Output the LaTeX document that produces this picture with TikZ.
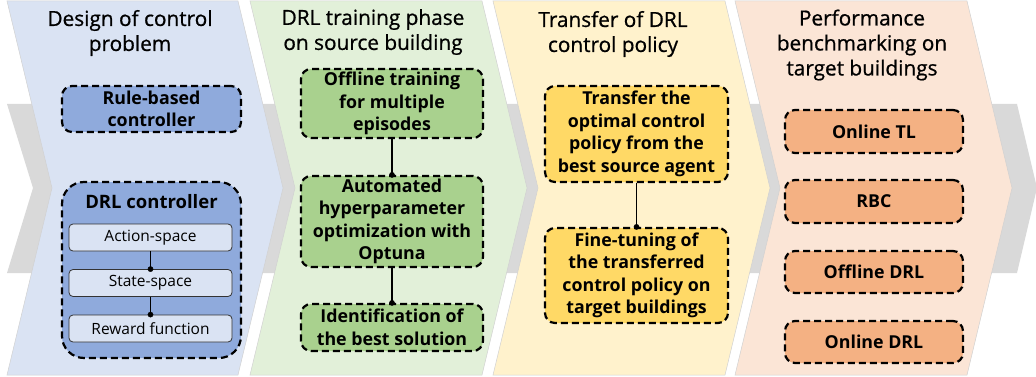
\documentclass[tikz,border=0pt]{standalone}
\usepackage{fontspec}
\setmainfont{Open Sans}
\newfontfamily\ttlfont{Open Sans}[FakeBold=0.8]
\usepackage{tikz}
\usetikzlibrary{%
  arrows,%
  calc,%
  positioning%
}
\definecolor{bluebg}{HTML}{DAE3F3}
\definecolor{bluebx}{HTML}{8FAADC}
\definecolor{greenbg}{HTML}{E2F0D9}
\definecolor{greenbx}{HTML}{A9D18E}
\definecolor{yellowbg}{HTML}{FFF2CC}
\definecolor{yellowbx}{HTML}{FFD966}
\definecolor{peachbg}{HTML}{FBE5D6}
\definecolor{peachbx}{HTML}{F4B183}
\definecolor{flowgray}{HTML}{D9D9D9}
\tikzset{>=latex,%
  panel/.style={draw=black!18,line width=0.5pt},
  ttl/.style={align=center,font=\ttlfont\fontsize{20.8}{25}\selectfont,inner sep=0pt},
  dbox/.style={draw=black,line width=2.2pt,dash pattern=on 7pt off 4pt,
    rounded corners=10pt,align=center,inner sep=0pt,
    font=\fontsize{17.8}{22.5}\selectfont\bfseries},
  ibox/.style={draw=black!80,line width=0.8pt,fill=bluebg,rounded corners=4pt,
    minimum width=163pt,minimum height=27pt,inner sep=0pt,
    font=\fontsize{15.5}{17}\selectfont},
  link/.style={line width=1.6pt}}
\begin{document}
\begin{tikzpicture}[x=1pt,y=-1pt]
  \useasboundingbox (0,0) rectangle (1036,377);
  % flow arrow behind the phases
  \fill[flowgray] (7,104) -- (1017,104) -- (1037,188) -- (1017,273)
    -- (7,273) -- (33,188) -- cycle;
  % phases
  \draw[panel,fill=bluebg] (7,1) -- (238,1) -- (283,188) -- (238,375)
    -- (7,375) -- (52,188) -- cycle;
  \draw[panel,fill=greenbg] (250,1) -- (482,1) -- (527,188) -- (482,375)
    -- (250,375) -- (295,188) -- cycle;
  \draw[panel,fill=yellowbg] (493,1) -- (725,1) -- (770,188) -- (725,375)
    -- (493,375) -- (538,188) -- cycle;
  \draw[panel,fill=peachbg] (735,1) -- (967,1) -- (1012,188) -- (967,375)
    -- (735,375) -- (780,188) -- cycle;
  % titles
  \node[ttl] (t1) at (130,33) {Design of control\\problem};
  \node[ttl] (t2) at (373,32) {DRL training phase\\on source building};
  \node[ttl] (t3) at (613,34) {Transfer of DRL\\control policy};
  \node[ttl] (t4) at (862,45) {Performance\\benchmarking on\\target buildings};
  % design of control problem
  \node[dbox,fill=bluebx,minimum width=179pt,minimum height=46pt]
    (rbc) at (151.5,109) {Rule-based\\controller};
  \node[dbox,fill=bluebx,minimum width=179pt,minimum height=176pt,
    rounded corners=22pt] (drl) at (151.5,270) {};
  \node[font=\fontsize{18.5}{20}\selectfont\bfseries,inner sep=0pt]
    (drlt) at (151.5,202) {DRL controller};
  \node[ibox] (act) at (150.5,237.5) {Action-space};
  \node[ibox] (sta) at (150.5,283) {State-space};
  \node[ibox] (rew) at (150.5,328.5) {Reward function};
  \draw[link] (act) -- (sta.north);
  \draw[link] (sta) -- (rew.north);
  \draw[fill=black] (sta.north) circle (2.6pt);
  \draw[fill=black] (rew.north) circle (2.6pt);
  % training phase
  \node[dbox,fill=greenbx,minimum width=182pt,minimum height=69pt]
    (off) at (392,103.5) {Offline training\\for multiple\\episodes};
  \node[dbox,fill=greenbx,minimum width=182pt,minimum height=91pt]
    (hpo) at (392,221.5) {Automated\\hyperparameter\\optimization with\\Optuna};
  \node[dbox,fill=greenbx,minimum width=182pt,minimum height=47pt]
    (best) at (392,327.5) {Identification of\\the best solution};
  \draw[link] (off) -- (hpo.north);
  \draw[link] (hpo) -- (best.north);
  \draw[fill=black] (hpo.north) circle (2.6pt);
  \draw[fill=black] (best.north) circle (2.6pt);
  % transfer
  \node[dbox,fill=yellowbx,minimum width=183pt,minimum height=96pt]
    (trf) at (636.5,134) {Transfer the\\optimal control\\policy from the\\best source agent};
  \node[dbox,fill=yellowbx,minimum width=183pt,minimum height=95pt]
    (fine) at (636.5,275.5) {Fine-tuning of\\the transferred\\control policy on\\target buildings};
  \draw[link] (trf) -- (fine.north);
  \draw[fill=black] (fine.north) circle (2.6pt);
  % benchmarking
  \node[dbox,fill=peachbx,minimum width=178pt,minimum height=43pt]
    (otl) at (874,131.5) {Online TL};
  \node[dbox,fill=peachbx,minimum width=178pt,minimum height=43pt]
    (rb) at (874,201.5) {RBC};
  \node[dbox,fill=peachbx,minimum width=178pt,minimum height=42pt]
    (odrl) at (874,272) {Offline DRL};
  \node[dbox,fill=peachbx,minimum width=178pt,minimum height=42pt]
    (ndrl) at (874,342) {Online DRL};
\end{tikzpicture}
\end{document}
